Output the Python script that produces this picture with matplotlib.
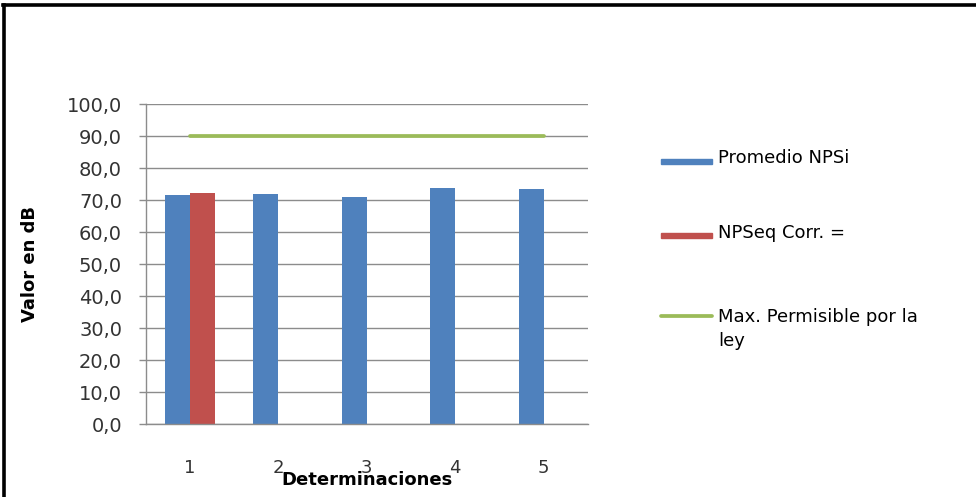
import numpy as np
import matplotlib
matplotlib.use('Agg')
import matplotlib.pyplot as plt
from matplotlib.ticker import MultipleLocator, FuncFormatter
from matplotlib.lines import Line2D
from matplotlib.patches import Rectangle

determinaciones = [1, 2, 3, 4, 5]
promedio_npsi = [71.6, 72.0, 71.1, 73.9, 73.5]
npseq_corr = [72.4, np.nan, np.nan, np.nan, np.nan]
max_permisible = [90.0, 90.0, 90.0, 90.0, 90.0]
series_names = ['Promedio NPSi', 'NPSeq Corr. =', 'Max. Permisible por la\nley']

blue = '#4F81BD'
red = '#C0504D'
green = '#9BBB59'
grid_c = '#8C8C8C'
txt_c = '#333333'

W, H = 976, 497
fig = plt.figure(figsize=(W / 100, H / 100), dpi=100)
ax = fig.add_axes([0.1493, 0.1463, 0.4529, 0.6438])

index = np.array(determinaciones)
bar_width = 0.283
ax.bar(index - bar_width / 2, promedio_npsi, bar_width, color=blue)
ax.bar(index + bar_width / 2, npseq_corr, bar_width, color=red)
ax.plot(index, max_permisible, color=green, lw=2.7, solid_capstyle='round')

ax.set_xlim(0.5, 5.5)
ax.set_ylim(0, 100)
ax.yaxis.set_major_locator(MultipleLocator(10))
ax.yaxis.set_major_formatter(FuncFormatter(lambda v, p: ('%.1f' % v).replace('.', ',')))
ax.set_xticks(index)
ax.set_xticklabels([str(d) for d in determinaciones])
ax.yaxis.grid(True, color=grid_c, lw=1)
ax.set_axisbelow(True)

for s in ['top', 'right']:
    ax.spines[s].set_visible(False)
for s in ['left', 'bottom']:
    ax.spines[s].set_color(grid_c)
    ax.spines[s].set_linewidth(1)

ax.tick_params(axis='y', colors=grid_c, labelcolor=txt_c, labelsize=14, length=5, width=1, pad=12)
ax.tick_params(axis='x', length=0, labelcolor=txt_c, labelsize=13, pad=25)

ax.set_ylabel('Valor en dB', fontsize=13, fontweight='bold', color='black', labelpad=20)
ax.set_xlabel('Determinaciones', fontsize=13, fontweight='bold', color='black', labelpad=-4)

# leyenda a la derecha (como en Excel)
def fx(px):
    return px / W

def fy(py):
    return 1 - py / H

fig.add_artist(Rectangle((fx(661), fy(163.5)), fx(712) - fx(661), 5 / H,
                         color=blue, transform=fig.transFigure))
fig.add_artist(Rectangle((fx(661), fy(238)), fx(712) - fx(661), 5 / H,
                         color=red, transform=fig.transFigure))
fig.add_artist(Line2D([fx(661), fx(712)], [fy(316), fy(316)], color=green, lw=2.7,
                      solid_capstyle='round', transform=fig.transFigure))
for name, top in zip(series_names, [149, 224, 308]):
    fig.text(fx(718), fy(top), name, fontsize=13, color='black', va='top',
             ha='left', linespacing=1.45)

# marco exterior
fig.add_artist(Line2D([0.003, 1.0], [0.989, 0.989], color='black', lw=2.6, transform=fig.transFigure))
fig.add_artist(Line2D([0.0045, 0.0045], [0.0, 0.989], color='black', lw=2.6, transform=fig.transFigure))

fig.savefig('out.png', dpi=100)
